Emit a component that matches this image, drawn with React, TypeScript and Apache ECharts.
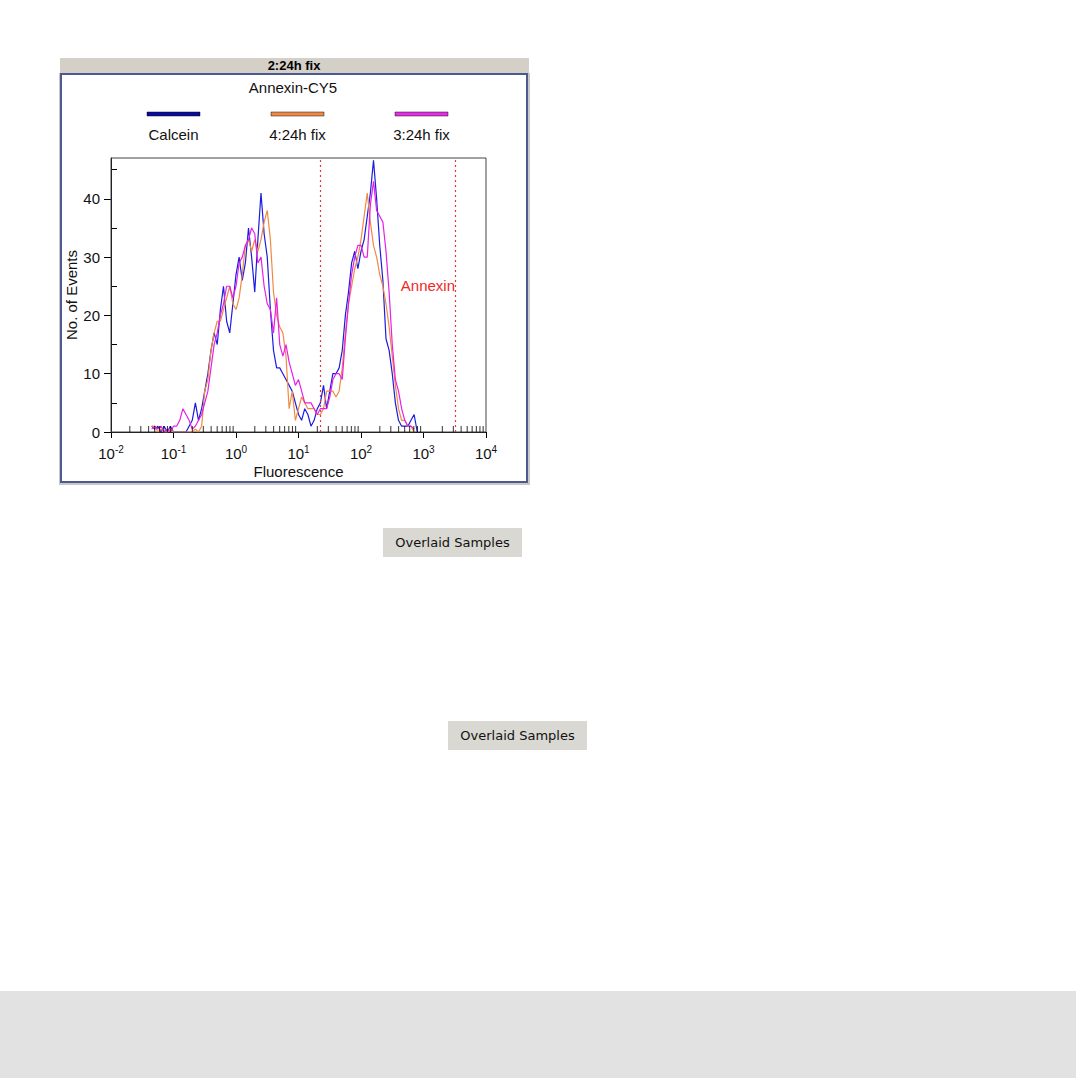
import React, { useEffect, useRef } from "react";
import * as echarts from "echarts";

// log10 of the fluorescence channel centres
const channelExponents = [
  -1.4, -1.35, -1.3, -1.25, -1.2, -1.15, -1.1, -1.05, -1.0, -0.95, -0.9, -0.85, -0.8, -0.75, -0.7,
  -0.65, -0.6, -0.55, -0.5, -0.45, -0.4, -0.35, -0.3, -0.25, -0.2, -0.15, -0.1, -0.05, 0.0, 0.05,
  0.1, 0.15, 0.2, 0.25, 0.3, 0.35, 0.4, 0.45, 0.5, 0.55, 0.6, 0.65, 0.7, 0.75, 0.8, 0.85, 0.9, 0.95,
  1.0, 1.05, 1.1, 1.15, 1.2, 1.25, 1.3, 1.35, 1.4, 1.45, 1.5, 1.55, 1.6, 1.65, 1.7, 1.75, 1.8, 1.85,
  1.9, 1.95, 2.0, 2.05, 2.1, 2.15, 2.2, 2.25, 2.3, 2.35, 2.4, 2.45, 2.5, 2.55, 2.6, 2.65, 2.7, 2.75,
  2.8, 2.85, 2.9, 2.95, 3.0,
];

const calcein = [
  null, 1, 0.5, 1, 0, 1, 0, 1, 0, 0, 0, 0, 0, 1, 2,
  5, 2, 4, 7, 10, 14, 17, 15, 21, 25, 19, 17, 22, 27, 30,
  26, 29, 35, 30, 24, 33, 41, 34, 30, 21, 14, 11, 11, 10, 9, 8, 7, 5,
  3, 2, 4, 3, 1, 2, 4, 5, 8, 4, 7, 10, 10, 11, 14, 20, 24, 29,
  31, 28, 31, 33, 37, 41, 46.6, 40, 32, 26, 16, 14, 10, 5, 2, 1, 1, 1,
  2, 3, 0, null, null,
];

const fix4 = [
  null, 1, 1, 0, 0.5, 0, 0, 0.5, 0, 0, 0, 0, 0, 0, 0,
  0.5, 0, 1, 7, 9, 14, 17, 19, 19, 21, 23, 25, 22, 21, 23,
  27, 32, 33, 31, 33, 31, 33, 36, 38, 33, 24, 20, 18, 17, 13, 4, 7, 2,
  4, 6, 5, 4, 4, 4, 3, 3, 4, 7, 7, 7, 6, 7, 11, 17, 22, 25,
  28, 30, 33, 37, 41, 36, 32, 30, 27, 25, 22, 18, 13, 8, 4, 2, 2, 1,
  1, 0, null, null, null,
];

const fix3 = [
  null, 0.5, 1, 0.5, 1, 0, 0.5, 0, 1, 1, 2, 4, 3, 2, 0.5,
  1, 2, 3, 5, 7, 11, 15, 17, 20, 22, 25, 25, 23, 25, 29,
  30, 32, 33, 35, 34, 29, 30, 25, 22, 21, 17, 23, 15, 13, 15, 12, 10, 8,
  9, 7, 5, 5, 5, 4, 3, 4, 4, 4, 6, 9, 10, 10, 9, 16, 22, 27,
  30, 32, 32, 30, 30, 39, 43, 38, 37, 36, 31, 24, 15, 9, 7, 4, 2, 1,
  1, 0.5, null, null, null,
];

const seriesNames = ["Calcein", "4:24h fix", "3:24h fix"];
const seriesValues = [calcein, fix4, fix3];
const seriesColors = ["#1c1ce0", "#f08a42", "#e620e6"];
const legendColors = ["#0c0c9c", "#ec8a48", "#e030e0"];

const gateBounds = [22, 3270];
const gateLabel = "Annexin";
const yLabelValues = [0, 10, 20, 30, 40];
const yMinorValues = [5, 15, 25, 35, 45];
const decades = [-2, -1, 0, 1, 2, 3];
const minorMultipliers = [2, 3, 4, 5, 6, 7, 8, 9];

const FONT = "'Liberation Sans', Arial, sans-serif";

export default function App() {
  const ref = useRef<HTMLDivElement>(null);

  useEffect(() => {
    if (!ref.current) return;
    const chart = echarts.init(ref.current, undefined, { renderer: "svg" });

    const minorTickData: number[][] = [];
    decades.forEach((d) => {
      minorMultipliers.forEach((m) => minorTickData.push([m * Math.pow(10, d), 0]));
    });

    const lineSeries = seriesNames.map((name, si) => ({
      name,
      type: "line",
      showSymbol: false,
      silent: true,
      z: 3 + si,
      lineStyle: { color: seriesColors[si], width: 1.2 },
      itemStyle: { color: seriesColors[si] },
      data: channelExponents
        .map((e, i) => [Math.pow(10, e), seriesValues[si][i]])
        .filter((p) => p[1] !== null),
      ...(si === 0
        ? {
            markLine: {
              silent: true,
              symbol: "none",
              label: { show: false },
              lineStyle: { color: "#e03a3a", type: [2, 3], width: 1.2 },
              data: gateBounds.map((g) => ({ xAxis: g })),
            },
          }
        : {}),
    }));

    const legendX = [147, 271, 395];
    const legendGraphics: any[] = [];
    seriesNames.forEach((name, i) => {
      legendGraphics.push({
        type: "rect",
        shape: { x: legendX[i], y: 112, width: 53, height: 4 },
        style: { fill: legendColors[i], stroke: "rgba(0,0,0,0.45)", lineWidth: 1 },
      });
      legendGraphics.push({
        type: "text",
        x: legendX[i] + 26.5,
        y: 134,
        style: {
          text: name,
          font: `15px ${FONT}`,
          fill: "#111",
          align: "center",
          verticalAlign: "middle",
        },
      });
    });

    const button = (x: number, y: number) => [
      {
        type: "rect",
        shape: { x, y, width: 139, height: 29 },
        style: { fill: "#d9d8d2" },
      },
      {
        type: "text",
        x: x + 69.5,
        y: y + 14.5,
        style: {
          text: "Overlaid Samples",
          font: "13px 'DejaVu Sans', sans-serif",
          fill: "#111",
          align: "center",
          verticalAlign: "middle",
        },
      },
    ];

    chart.setOption({
      animation: false,
      backgroundColor: "#ffffff",
      grid: {
        left: 111,
        right: 590,
        top: 158,
        bottom: 646,
        show: true,
        borderColor: "#444",
        borderWidth: 1,
        backgroundColor: "transparent",
        z: 2,
      },
      xAxis: {
        type: "log",
        logBase: 10,
        min: 0.01,
        max: 10000,
        name: "Fluorescence",
        nameLocation: "middle",
        nameGap: 32,
        nameMoveOverlap: false,
        nameTextStyle: { fontFamily: FONT, fontSize: 15, color: "#111" },
        axisLine: { show: true, lineStyle: { color: "#000", width: 1 } },
        axisTick: { show: true, length: 6, lineStyle: { color: "#000" } },
        splitLine: { show: false },
        axisLabel: {
          margin: 12,
          color: "#111",
          fontFamily: FONT,
          formatter: (v: number) => `{b|10}{sup|${Math.round(Math.log10(v))}}`,
          rich: {
            b: { fontSize: 15, fontFamily: FONT, color: "#111", lineHeight: 17, verticalAlign: "bottom" },
            sup: { fontSize: 10, fontFamily: FONT, color: "#111", lineHeight: 17, verticalAlign: "top" },
          },
        },
      },
      yAxis: [
        {
          type: "value",
          min: 0,
          max: 47,
          interval: 10,
          position: "left",
          name: "No. of Events",
          nameLocation: "middle",
          nameGap: 32,
          nameMoveOverlap: false,
          nameTextStyle: { fontFamily: FONT, fontSize: 15, color: "#111" },
          axisLine: { show: true, lineStyle: { color: "#000", width: 1 } },
          axisTick: { show: true, length: 7, lineStyle: { color: "#000" }, customValues: yLabelValues },
          axisLabel: {
            margin: 11,
            fontFamily: FONT,
            fontSize: 15,
            color: "#111",
            customValues: yLabelValues,
            formatter: (v: number) => (v % 10 === 0 ? String(v) : ""),
          },
          splitLine: { show: false },
        },
        {
          type: "value",
          min: 0,
          max: 47,
          interval: 5,
          position: "left",
          axisLine: { show: false },
          axisTick: {
            show: true,
            inside: true,
            length: 6,
            lineStyle: { color: "#000" },
            customValues: yMinorValues,
          },
          axisLabel: { show: false },
          splitLine: { show: false },
        },
      ],
      graphic: [
        {
          type: "rect",
          z: -10,
          shape: { x: 0, y: 991, width: 1076, height: 87 },
          style: { fill: "#e2e2e2" },
        },
        {
          type: "rect",
          z: -10,
          shape: { x: 59, y: 73, width: 471, height: 412 },
          style: { fill: "#c8c8c8" },
        },
        {
          type: "rect",
          z: -9,
          shape: { x: 61, y: 74, width: 466, height: 408 },
          style: { fill: "#ffffff", stroke: "#4e5a8e", lineWidth: 2 },
        },
        {
          type: "rect",
          z: -9,
          shape: { x: 60, y: 58, width: 469, height: 15 },
          style: { fill: "#d4d0c8" },
        },
        {
          type: "text",
          x: 294,
          y: 65.5,
          style: {
            text: "2:24h fix",
            font: `bold 13px ${FONT}`,
            fill: "#000",
            align: "center",
            verticalAlign: "middle",
          },
        },
        {
          type: "text",
          x: 293,
          y: 87,
          style: {
            text: "Annexin-CY5",
            font: `15px ${FONT}`,
            fill: "#111",
            align: "center",
            verticalAlign: "middle",
          },
        },
        ...legendGraphics,
        {
          type: "text",
          x: 455,
          y: 285,
          z: 10,
          style: {
            text: gateLabel,
            font: `15px ${FONT}`,
            fill: "#f02828",
            align: "right",
            verticalAlign: "middle",
          },
        },
        ...button(383, 528),
        ...button(448, 721),
      ],
      series: [
        ...lineSeries,
        {
          name: "minorTicks",
          type: "scatter",
          silent: true,
          clip: false,
          z: 8,
          symbol: "rect",
          symbolSize: [1, 6],
          symbolOffset: [0, -3],
          itemStyle: { color: "#000" },
          data: minorTickData,
        },
      ],
    });

    return () => chart.dispose();
  }, []);

  return (
    <div
      ref={ref}
      style={{ position: "absolute", left: 0, top: 0, width: 1076, height: 1078 }}
    />
  );
}
